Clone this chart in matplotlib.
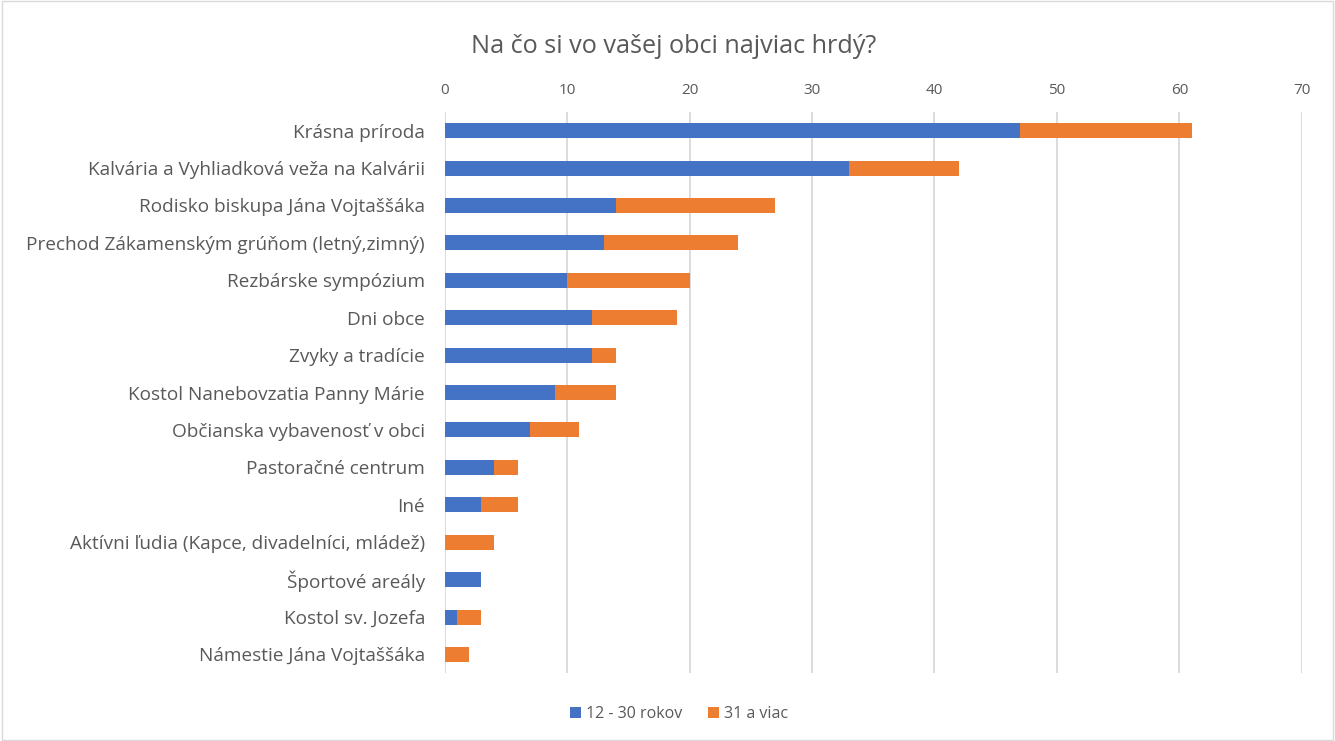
import numpy as np
import matplotlib
import matplotlib.pyplot as plt
from matplotlib.patches import Rectangle

matplotlib.rcParams['font.family'] = ['Open Sans', 'DejaVu Sans']

categories = ['Krásna príroda',
              'Kalvária a Vyhliadková veža na Kalvárii',
              'Rodisko biskupa Jána Vojtaššáka',
              'Prechod Zákamenským grúňom (letný,zimný)',
              'Rezbárske sympózium',
              'Dni obce',
              'Zvyky a tradície',
              'Kostol Nanebovzatia Panny Márie',
              'Občianska vybavenosť v obci',
              'Pastoračné centrum',
              'Iné',
              'Aktívni ľudia (Kapce, divadelníci, mládež)',
              'Športové areály',
              'Kostol sv. Jozefa',
              'Námestie Jána Vojtaššáka']
young = [47, 33, 14, 13, 10, 12, 12, 9, 7, 4, 3, 0, 3, 1, 0]
older = [14, 9, 13, 11, 10, 7, 2, 5, 4, 2, 3, 4, 0, 2, 2]
series_names = ['12 - 30 rokov', '31 a viac']
colors = ['#4472C4', '#ED7D31']
text_col = '#595959'

fig = plt.figure(figsize=(13.35, 7.41), dpi=100)
fig.patches.append(Rectangle((0.0015, 0.002), 0.997, 0.996, transform=fig.transFigure,
                             fill=False, edgecolor='#d9d9d9', linewidth=1))
ax = fig.add_axes([0.333, 0.0915, 0.6422, 0.7575])

y = np.arange(len(categories))
ax.barh(y, young, height=0.4, color=colors[0], label=series_names[0], zorder=3)
ax.barh(y, older, left=young, height=0.4, color=colors[1], label=series_names[1], zorder=3)

ax.set_xlim(0, 70)
ax.set_ylim(len(categories) - 0.5, -0.5)
ax.set_xticks(range(0, 71, 10))
ax.set_yticks(y)
ax.set_yticklabels(categories)
ax.xaxis.tick_top()
ax.tick_params(axis='x', length=0, pad=10, labelsize=11, labelcolor=text_col)
ax.tick_params(axis='y', length=0, pad=14, labelsize=13.7, labelcolor=text_col)
ax.grid(axis='x', color='#d9d9d9', linewidth=1.3, zorder=0)
for s in ax.spines.values():
    s.set_visible(False)

fig.text(0.5045, 0.937, 'Na čo si vo vašej obci najviac hrdý?', ha='center', va='center',
         fontsize=18.2, color=text_col)
fig.legend(loc='center', bbox_to_anchor=(0.5085, 0.036), ncol=2, frameon=False,
           fontsize=11.5, labelcolor=text_col, handlelength=0.7, handleheight=0.7,
           handletextpad=0.3, columnspacing=1.6)

fig.savefig('out.png', dpi=100)
